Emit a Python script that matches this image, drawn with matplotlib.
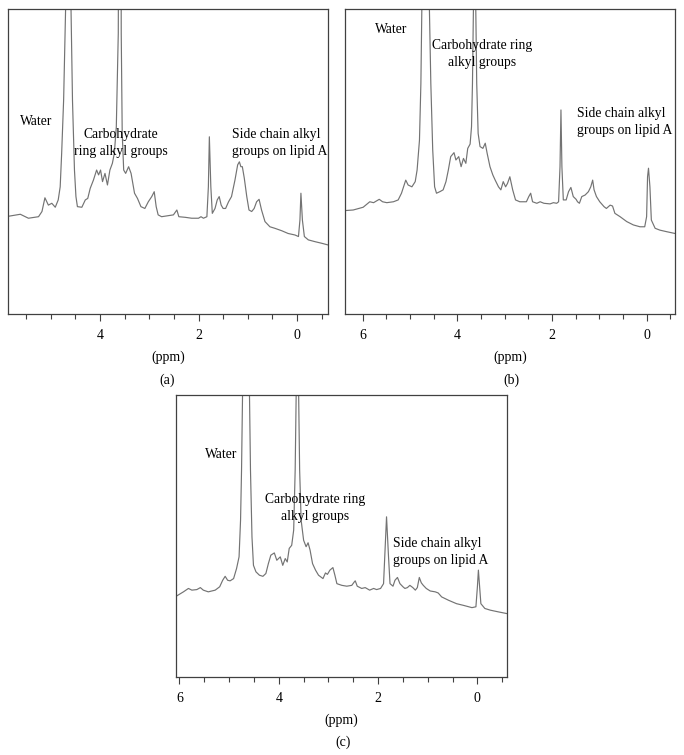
import matplotlib.pyplot as plt
from matplotlib.ticker import MultipleLocator

plt.rcParams["font.family"] = ["Liberation Serif", "DejaVu Serif"]

# spectrum (a): chemical shift (ppm) and relative intensity (% of frame height)
ppm_a = [5.84, 5.62, 5.455, 5.25, 5.18, 5.12, 5.05, 4.98, 4.91, 4.85, 4.81, 4.78, 4.74, 4.70, 4.64,
         4.59, 4.56, 4.52, 4.49, 4.46, 4.37, 4.30, 4.25, 4.20, 4.135, 4.07, 4.03, 3.99, 3.95, 3.90,
         3.85, 3.80, 3.75, 3.71, 3.67, 3.63, 3.59, 3.57, 3.55, 3.52, 3.48, 3.42, 3.37, 3.30, 3.24,
         3.17, 3.09, 3.02, 2.95, 2.90, 2.86, 2.82, 2.75, 2.51, 2.44, 2.40, 2.27, 2.14, 2.00, 1.95,
         1.90, 1.83, 1.80, 1.78, 1.75, 1.72, 1.665, 1.62, 1.58, 1.54, 1.50, 1.45, 1.39, 1.33, 1.26,
         1.205, 1.17, 1.14, 1.11, 1.07, 1.02, 0.975, 0.92, 0.87, 0.82, 0.77, 0.72, 0.65, 0.55, 0.45,
         0.31, 0.18, 0.04, -0.03, -0.06, -0.08, -0.11, -0.15, -0.23, -0.37, -0.50, -0.64]
int_a = [32.1, 32.7, 31.4, 31.9, 33.6, 38.1, 35.7, 36.3, 35.0, 37.4, 41.7, 52.7, 70.2, 100, 300,
         100, 70, 47.2, 38.5, 35.2, 35.0, 37.4, 37.9, 41.2, 43.9, 47.2, 45.6, 47.2, 43.4, 46.1,
         42.3, 47.2, 49.4, 52.7, 61.4, 92.0, 300, 92.0, 59.2, 47.2, 46.1, 48.3, 46.1, 39.6, 37.9,
         35.2, 34.6, 36.8, 38.5, 40.1, 35.2, 32.5, 31.9, 32.5, 34.1, 31.9, 31.7, 31.4, 31.4, 31.9,
         31.4, 31.9, 41.7, 58.1, 41.7, 33.0, 34.6, 37.4, 38.5, 35.7, 34.6, 34.6, 36.8, 38.5, 43.9,
         48.9, 49.9, 48.3, 48.3, 44.5, 38.5, 34.1, 33.6, 34.6, 36.8, 37.6, 34.1, 30.3, 28.6, 28.1,
         27.3, 26.4, 25.9, 25.4, 30.8, 39.6, 30.8, 25.4, 24.3, 23.7, 23.2, 22.6]

# spectrum (b)
ppm_b = [6.38, 6.20, 5.99, 5.85, 5.77, 5.65, 5.58, 5.49, 5.35, 5.25, 5.18, 5.09, 5.04, 4.96, 4.89,
         4.85, 4.80, 4.77, 4.75, 4.67, 4.59, 4.56, 4.52, 4.48, 4.44, 4.37, 4.30, 4.24, 4.19, 4.14,
         4.07, 4.03, 3.97, 3.92, 3.87, 3.82, 3.78, 3.73, 3.70, 3.68, 3.66, 3.63, 3.61, 3.59, 3.56,
         3.52, 3.46, 3.41, 3.37, 3.31, 3.25, 3.20, 3.13, 3.08, 3.03, 2.98, 2.94, 2.89, 2.83, 2.77,
         2.68, 2.54, 2.49, 2.45, 2.41, 2.32, 2.25, 2.17, 2.04, 1.97, 1.90, 1.86, 1.83, 1.81, 1.79,
         1.76, 1.70, 1.65, 1.60, 1.55, 1.49, 1.46, 1.42, 1.37, 1.30, 1.23, 1.18, 1.14, 1.11, 1.06,
         0.99, 0.90, 0.85, 0.77, 0.72, 0.67, 0.56, 0.42, 0.28, 0.14, 0.04, 0.00, -0.02, -0.04, -0.07,
         -0.10, -0.18, -0.28, -0.42, -0.60]
int_b = [33.9, 34.1, 35.0, 36.8, 36.5, 37.6, 36.8, 36.5, 36.8, 37.4, 39.6, 43.9, 42.3, 41.7, 43.4,
         47.2, 57.0, 75.6, 100, 300, 100, 75.6, 53.8, 41.7, 39.6, 40.1, 40.7, 43.4, 47.2, 51.6,
         52.9, 50.5, 51.6, 48.3, 51.0, 49.4, 54.3, 55.7, 61.4, 75.6, 100, 300, 100, 75.6, 59.2,
         54.9, 54.3, 56.0, 52.7, 48.3, 45.6, 43.9, 41.7, 40.7, 43.4, 41.7, 42.8, 45.0, 40.7, 37.4,
         36.8, 36.8, 38.5, 39.6, 36.8, 36.3, 36.8, 36.3, 36.1, 36.5, 36.3, 36.8, 48.3, 66.9, 48.3,
         37.4, 37.4, 40.1, 41.5, 38.5, 37.6, 36.8, 36.3, 38.5, 39.0, 40.1, 41.7, 43.9, 40.7, 38.5,
         36.8, 35.2, 34.6, 35.7, 35.4, 33.0, 31.9, 30.3, 29.2, 28.6, 28.6, 31.9, 45.0, 47.8, 41.7,
         30.8, 28.1, 27.5, 27.0, 26.4]

# spectrum (c)
ppm_c = [6.07, 5.92, 5.82, 5.75, 5.65, 5.58, 5.52, 5.42, 5.28, 5.19, 5.13, 5.08, 5.03, 4.98, 4.91,
         4.85, 4.80, 4.77, 4.75, 4.73, 4.66, 4.59, 4.57, 4.54, 4.51, 4.46, 4.39, 4.32, 4.26, 4.21,
         4.16, 4.09, 4.04, 3.97, 3.92, 3.87, 3.83, 3.79, 3.74, 3.70, 3.67, 3.65, 3.62, 3.60, 3.58,
         3.55, 3.50, 3.45, 3.41, 3.37, 3.32, 3.26, 3.20, 3.11, 3.06, 3.02, 2.97, 2.91, 2.87, 2.83,
         2.73, 2.63, 2.53, 2.48, 2.46, 2.42, 2.33, 2.26, 2.17, 2.09, 2.03, 1.95, 1.89, 1.86, 1.83,
         1.79, 1.76, 1.70, 1.66, 1.61, 1.56, 1.50, 1.46, 1.41, 1.36, 1.30, 1.25, 1.21, 1.17, 1.13,
         1.09, 1.03, 0.95, 0.85, 0.79, 0.72, 0.58, 0.42, 0.28, 0.11, 0.03, 0.00, -0.02, -0.04, -0.07,
         -0.15, -0.26, -0.42, -0.59]
int_c = [28.6, 30.2, 31.4, 30.8, 31.0, 31.7, 30.8, 30.2, 30.8, 32.0, 34.3, 35.7, 34.3, 34.1, 34.9,
         38.5, 42.6, 55.6, 73.4, 100, 300, 100, 73.4, 49.7, 39.6, 37.3, 36.1, 35.7, 36.7, 40.2,
         43.2, 44.0, 41.4, 42.6, 39.6, 42.0, 40.8, 45.6, 46.7, 52.1, 73.4, 100, 300, 100, 73.4,
         55.6, 48.5, 46.2, 47.6, 45.0, 40.2, 37.9, 36.1, 34.9, 36.9, 36.4, 37.9, 38.8, 36.1, 33.1,
         32.5, 32.2, 32.5, 33.7, 34.1, 32.2, 31.4, 31.7, 30.8, 31.4, 31.0, 31.4, 33.1, 45.0, 56.8,
         42.6, 33.1, 32.2, 34.3, 35.3, 33.1, 32.0, 31.4, 31.7, 32.5, 31.7, 30.8, 31.7, 35.3, 33.4,
         32.5, 31.4, 30.5, 30.2, 29.8, 28.4, 27.2, 26.0, 25.4, 24.6, 24.9, 32.0, 37.9, 33.1, 26.0,
         24.3, 23.7, 23.1, 22.5]

water_label = "Water"
carb_two_lines = "Carbohydrate\nring alkyl groups"
carb_other = "Carbohydrate ring\nalkyl groups"
lipid_label = "Side chain alkyl\ngroups on lipid A"

LINE = "#737373"
FRAME = "#404040"


def desenhar_painel(ax, ppm, intens, xlim, textos):
    ax.plot(ppm, intens, color=LINE, linewidth=0.85)
    ax.set_xlim(*xlim)
    ax.set_ylim(0, 100)
    ax.set_yticks([])
    ax.xaxis.set_major_locator(MultipleLocator(2))
    ax.xaxis.set_minor_locator(MultipleLocator(0.5))
    ax.tick_params(axis="x", which="major", direction="out", length=5, width=0.8,
                   color=FRAME, labelsize=10, pad=6)
    ax.tick_params(axis="x", which="minor", direction="out", length=3.5, width=0.8, color=FRAME)
    for s in ax.spines.values():
        s.set_color(FRAME)
        s.set_linewidth(0.9)
    ax.set_xlabel("(ppm)", fontsize=10, labelpad=6)
    for x, y, t, ha in textos:
        ax.text(x, y, t, ha=ha, va="center", fontsize=9.8, linespacing=1.4)


fig = plt.figure(figsize=(6.84, 7.55), dpi=100)

ax_a = fig.add_axes([8 / 684, 1 - 314 / 755, 320 / 684, 305 / 755])
desenhar_painel(ax_a, ppm_a, int_a, (5.87, -0.63), [
    (5.62, 63.0, water_label, "left"),
    (3.57, 56.2, carb_two_lines, "center"),
    (1.31, 56.0, lipid_label, "left"),
])

ax_b = fig.add_axes([344.7 / 684, 1 - 314 / 755, 330.3 / 684, 305 / 755])
desenhar_painel(ax_b, ppm_b, int_b, (6.38, -0.60), [
    (5.74, 93.4, water_label, "left"),
    (3.47, 85.4, carb_other, "center"),
    (1.48, 62.8, lipid_label, "left"),
])

ax_c = fig.add_axes([176 / 684, 1 - 677 / 755, 330.7 / 684, 282 / 755])
desenhar_painel(ax_c, ppm_c, int_c, (6.07, -0.59), [
    (5.48, 78.9, water_label, "left"),
    (3.26, 60.1, carb_other, "center"),
    (1.70, 44.5, lipid_label, "left"),
])

fig.text(167 / 684, 1 - 380 / 755, "(a)", ha="center", va="center", fontsize=10)
fig.text(511 / 684, 1 - 380 / 755, "(b)", ha="center", va="center", fontsize=10)
fig.text(343 / 684, 1 - 742 / 755, "(c)", ha="center", va="center", fontsize=10)

fig.savefig("out.png", dpi=100)
